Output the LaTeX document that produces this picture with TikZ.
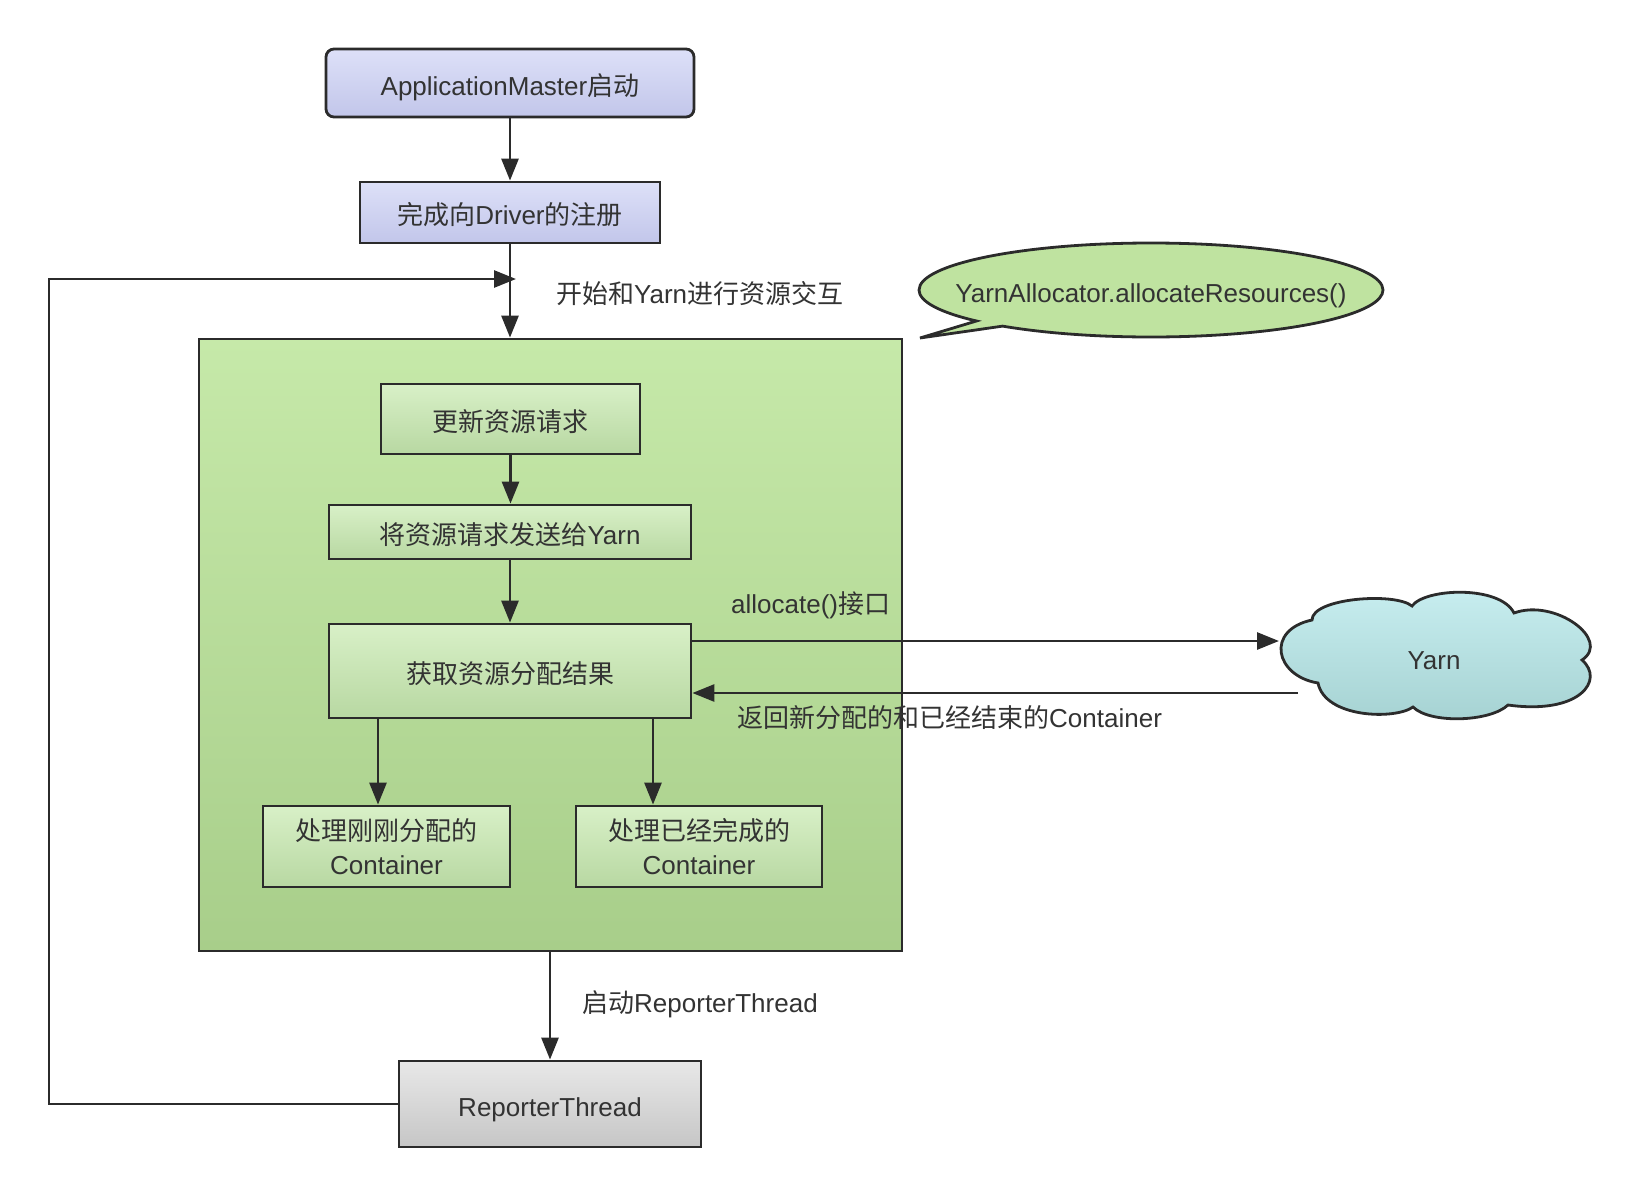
\documentclass[tikz,border=0pt]{standalone}
\usepackage{fontspec}
\setmainfont{Liberation Sans}
\newfontfamily\cjk{Noto Sans CJK SC}
\usetikzlibrary{arrows.meta,shapes.callouts,calc}
\definecolor{ink}{HTML}{2B2B2B}
\definecolor{txt}{HTML}{333333}
\definecolor{blueT}{HTML}{DDE0F8}
\definecolor{blueB}{HTML}{C2C6EA}
\definecolor{grpT}{HTML}{C6E9A9}
\definecolor{grpB}{HTML}{A8CE8A}
\definecolor{inT}{HTML}{D8F0C7}
\definecolor{inB}{HTML}{B8D8A2}
\definecolor{ellC}{HTML}{BFE3A0}
\definecolor{cloudT}{HTML}{C8EEF0}
\definecolor{cloudB}{HTML}{A5D2D2}
\definecolor{grayT}{HTML}{E8E8E8}
\definecolor{grayB}{HTML}{C6C6C6}
\tikzset{
  base/.style={draw=ink, line width=2.8pt, text=txt, align=center, inner sep=0pt,
               font=\fontsize{26}{33.5}\selectfont},
  one/.style={text height=24pt, text depth=0pt},
  bluebox/.style={base, one, top color=blueT, bottom color=blueB},
  inbox/.style={base, top color=inT, bottom color=inB},
  lbl/.style={text=txt, anchor=west, inner sep=0pt, font=\fontsize{26}{32}\selectfont},
  ntext/.style={text=txt, inner sep=0pt, one, font=\fontsize{26}{32}\selectfont},
  arr/.style={draw=ink, line width=2.8pt, -{Triangle[length=22pt,width=17pt]}},
  outline/.style={draw=ink, line width=2.8pt}
}
\begin{document}
\begin{tikzpicture}[x=1pt,y=-1pt]
\useasboundingbox (0,0) rectangle (1644,1197);

% group box
\node[base, top color=grpT, bottom color=grpB, minimum width=703pt, minimum height=612pt] (grp) at (550.5,645) {};

% top boxes
\node[bluebox, rounded corners=8pt, minimum width=368pt, minimum height=68pt] (am) at (510,83) {ApplicationMaster{\cjk 启动}};
\node[bluebox, minimum width=300pt, minimum height=61pt] (drv) at (510,212.5) {{\cjk 完成向}Driver{\cjk 的注册}};

% inner boxes
\node[inbox, one, minimum width=259pt, minimum height=70pt] (upd) at (510.5,419) {{\cjk 更新资源请求}};
\node[inbox, one, minimum width=362pt, minimum height=54pt] (send) at (510,532) {{\cjk 将资源请求发送给}Yarn};
\node[inbox, one, minimum width=362pt, minimum height=94pt] (get) at (510,671) {{\cjk 获取资源分配结果}};
\node[inbox, minimum width=247pt, minimum height=81pt] (p1) at (386.5,846.5) {{\cjk 处理刚刚分配的}\\Container};
\node[inbox, minimum width=246pt, minimum height=81pt] (p2) at (699,846.5) {{\cjk 处理已经完成的}\\Container};

% reporter thread
\node[base, one, top color=grayT, bottom color=grayB, minimum width=302pt, minimum height=86pt] (rt) at (550,1104) {ReporterThread};

% yarn cloud
\path[outline, top color=cloudT, bottom color=cloudB]
  (1312,620) .. controls (1312,598) and (1395,592) .. (1412,606)
             .. controls (1425,588) and (1500,585) .. (1514,613)
             .. controls (1555,598) and (1612,640) .. (1582,660)
             .. controls (1605,680) and (1580,715) .. (1508,705)
             .. controls (1490,722) and (1430,724) .. (1413,707)
             .. controls (1395,720) and (1325,718) .. (1318,683)
             .. controls (1275,676) and (1265,630) .. cycle;
\node[ntext] (yarn) at (1434,657) {Yarn};

% callout
\coordinate (tip) at (920,338);
\node[draw=ink, line width=2.8pt, fill=ellC, ellipse callout, inner sep=0pt,
      callout absolute pointer=(tip), callout pointer arc=9,
      minimum width=464pt, minimum height=94pt] (ell) at (1151,290) {};
\node[ntext] (elltext) at (ell.center) {YarnAllocator.allocateResources()};

% connectors
\draw[arr] (am.south) -- (drv.north);
\draw[arr] (drv.south) -- (drv.south |- grp.north);
\draw[arr] (upd.south) -- (upd.south |- send.north);
\draw[arr] (send.south) -- (send.south |- get.north);
\coordinate (a1) at (378,0);
\coordinate (a2) at (653,0);
\draw[arr] (get.south -| a1) -- (p1.north -| a1);
\draw[arr] (get.south -| a2) -- (p2.north -| a2);
\draw[arr] (grp.south -| rt.north) -- (rt.north);

\coordinate (yin) at (1279,641);
\coordinate (yout) at (1298,693);
\draw[arr] (get.east |- yin) -- (yin);
\draw[arr] (yout) -- (get.east |- yout);

\coordinate (lp) at (49,279);
\coordinate (lptip) at (516,279);
\draw[arr] (rt.west) -- (rt.west -| lp) -- (lp) -- (lptip);

% labels
\node[lbl] (l1) at (556,294) {{\cjk 开始和}Yarn{\cjk 进行资源交互}};
\node[lbl] (l2) at (731,605) {allocate(){\cjk 接口}};
\node[lbl] (l3) at (737,718) {{\cjk 返回新分配的和已经结束的}Container};
\node[lbl] (l4) at (582,1004) {{\cjk 启动}ReporterThread};
\end{tikzpicture}
\end{document}
